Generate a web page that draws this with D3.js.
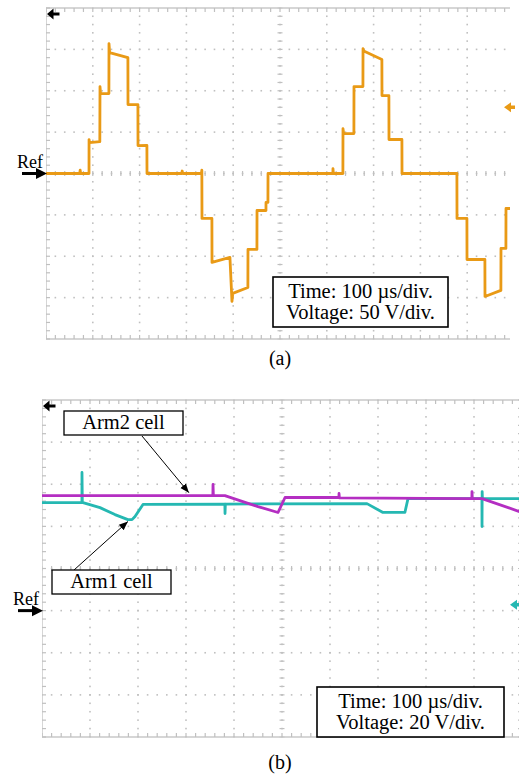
<!DOCTYPE html>
<html lang="en">
  <head>
    <meta charset="UTF-8">
    <title>Cell waveforms</title>
    <style>
      body { margin: 0; background: #fff; }
      svg { display: block; }
      text { font-family: "Liberation Serif", "Times New Roman", serif; fill: #000; }
    </style>
  </head>
  <body>
    <svg id="chart" width="519" height="775"></svg>

    <script src="https://cdn.jsdelivr.net/npm/d3@7"></script>

    <script>
      // panel (a): output voltage, 100 us/div, 50 V/div
      var aTime = [0, 72, 73, 74, 91.9, 92, 93, 115, 115.4, 116.5, 134.4, 134.6, 136, 175, 175.2, 196.4, 196.6, 215.6, 215.8,
                   290, 291, 292, 332, 333, 333.3, 354.5, 354.7, 393, 397.4, 399, 431.4, 431.6, 450.7, 450.9, 470, 470.1, 474.2, 474.4,
                   613, 613.2, 614, 634.4, 634.6, 636, 657.9, 658.1, 677.2, 677.4, 679, 717.7, 717.9, 732.7, 732.9, 760.5, 760.7,
                   878, 878.2, 899.4, 899.6, 937.8, 938, 972, 972.2, 982.7, 982.9, 995];
      var aVolt = [0, 0, 4, 0, 0, 41, 37.4, 38.5, 105, 96.6, 96.6, 157, 146, 140, 83.3, 83.3, 33.8, 34, 0,
                   0, 3, 0, 0, 4, -54.3, -54.3, -107.5, -101.4, -154.6, -144.9, -137.7, -91.8, -91.8, -44.7, -44.7, -35, -35, 0,
                   0, 6, 0, 0, 54.3, 48.3, 48.3, 105.1, 105.1, 151, 148, 137.7, 94.2, 94.2, 41.1, 41.1, 0,
                   0, -54.3, -54.3, -103.9, -103.9, -148.6, -141.3, -90.6, -90.6, -42.3, -42.3];

      // panel (b): cell voltages, 100 us/div, 20 V/div
      var arm2Time = [0, 356, 356.3, 357, 381, 450, 491.7, 506.3, 618.6, 618.8, 619.5, 895.6, 895.8, 896.5, 916.7, 1000];
      var arm2Volt = [54.6, 54.6, 59.9, 54.6, 54.6, 49.4, 46.6, 53.7, 53.7, 55.6, 53.5, 53.2, 56.5, 53.2, 53.2, 46.6];

      var arm1Time = [0, 83.2, 83.3, 84, 85.4, 120.8, 152, 179, 187.5, 193.8, 210.4, 381, 381.3, 382, 677, 710.4, 756, 762.5,
                      916.5, 916.7, 917, 917.5, 1000];
      var arm1Volt = [51.3, 51.3, 65.6, 51.3, 51.3, 48.9, 45.6, 43.2, 43.2, 44.7, 50.4, 50.6, 46.1, 50.6, 50.8, 46.6, 46.6, 53.2,
                      53.2, 39.9, 56.5, 53.2, 53.2];

      var timeTicks = [0, 100, 200, 300, 400, 500, 600, 700, 800, 900, 1000];
      var aVoltTicks = [-200, -150, -100, -50, 0, 50, 100, 150, 200];
      var bVoltTicks = [-60, -40, -20, 0, 20, 40, 60, 80, 100];

      var svg = d3.select("#chart");
      var defs = svg.append("defs");

      defs.append("marker")
        .attr("id", "head")
        .attr("viewBox", "0 0 10 10")
        .attr("refX", 10).attr("refY", 5)
        .attr("markerWidth", 9).attr("markerHeight", 9)
        .attr("markerUnits", "userSpaceOnUse")
        .attr("orient", "auto")
        .append("path").attr("d", "M0,1 L10,5 L0,9 Z").attr("fill", "#000");

      function panel(opts) {
        var x = d3.scaleLinear().domain([0, 1000]).range(opts.xr);
        var y = d3.scaleLinear().domain(opts.yd).range(opts.yr);
        var g = svg.append("g");

        defs.append("clipPath").attr("id", opts.id)
          .append("rect")
          .attr("x", opts.xr[0]).attr("y", opts.yr[1] - 2)
          .attr("width", opts.clipX - opts.xr[0]).attr("height", opts.yr[0] - opts.yr[1] + 4);

        var grid = g.append("g").attr("clip-path", "url(#" + opts.id + ")");
        var xMinor = d3.range(0, 1000.1, 20);
        var yMinor = d3.range(opts.yd[0], opts.yd[1] + 0.01, opts.yStep / 5);
        var gridCol = "#c0c0c0";

        // dotted major lines
        timeTicks.slice(1, -1).forEach(function(t) {
          grid.selectAll(null).data(yMinor).enter().append("rect")
            .attr("x", x(t) - 0.8).attr("y", function(d) { return y(d) - 0.8; })
            .attr("width", 1.6).attr("height", 1.6).attr("fill", gridCol);
        });
        opts.yTicks.slice(1, -1).forEach(function(v) {
          grid.selectAll(null).data(xMinor).enter().append("rect")
            .attr("x", function(d) { return x(d) - 0.8; }).attr("y", y(v) - 0.8)
            .attr("width", 1.6).attr("height", 1.6).attr("fill", gridCol);
        });

        // centre axes with minor ticks
        var cx = x(500), cy = y(opts.yCenter);
        grid.selectAll(null).data(yMinor).enter().append("line")
          .attr("x1", cx - 2.5).attr("x2", cx + 2.5)
          .attr("y1", function(d) { return y(d); }).attr("y2", function(d) { return y(d); })
          .attr("stroke", gridCol).attr("stroke-width", 1.2);
        grid.selectAll(null).data(xMinor).enter().append("line")
          .attr("y1", cy - 2.5).attr("y2", cy + 2.5)
          .attr("x1", function(d) { return x(d); }).attr("x2", function(d) { return x(d); })
          .attr("stroke", gridCol).attr("stroke-width", 1.2);

        // frame with ticks on the edges
        grid.append("rect")
          .attr("x", opts.xr[0]).attr("y", opts.yr[1])
          .attr("width", opts.xr[1] - opts.xr[0]).attr("height", opts.yr[0] - opts.yr[1])
          .attr("fill", "none").attr("stroke", "#cccccc").attr("stroke-width", 1.6);
        [opts.yr[0], opts.yr[1]].forEach(function(edge, i) {
          var dir = i === 0 ? -1 : 1;
          grid.selectAll(null).data(xMinor).enter().append("line")
            .attr("x1", function(d) { return x(d); }).attr("x2", function(d) { return x(d); })
            .attr("y1", edge).attr("y2", edge + dir * 4)
            .attr("stroke", gridCol).attr("stroke-width", 1.2);
        });
        [opts.xr[0], opts.xr[1]].forEach(function(edge, i) {
          var dir = i === 0 ? 1 : -1;
          grid.selectAll(null).data(yMinor).enter().append("line")
            .attr("y1", function(d) { return y(d); }).attr("y2", function(d) { return y(d); })
            .attr("x1", edge).attr("x2", edge + dir * 4)
            .attr("stroke", gridCol).attr("stroke-width", 1.2);
        });

        // traces
        var line = d3.line()
          .x(function(d) { return x(d[0]); })
          .y(function(d) { return y(d[1]); });
        var traces = g.append("g").attr("clip-path", "url(#" + opts.id + ")");
        opts.series.forEach(function(s) {
          traces.append("path")
            .datum(d3.zip(s.t, s.v))
            .attr("d", line)
            .attr("fill", "none")
            .attr("stroke", s.color)
            .attr("stroke-width", 2.8)
            .attr("stroke-linejoin", "round");
        });

        // channel offset marker at the right edge
        var my = y(opts.marker.v), mx = opts.marker.x;
        g.append("path")
          .attr("d", "M" + mx + "," + my + " l7,-5 l0,3.3 l4,0 l0,3.4 l-4,0 l0,3.3 Z")
          .attr("fill", opts.marker.color);

        // trigger arrow, top left
        var ax = opts.xr[0] + 1, ay = opts.yr[1] + 6;
        g.append("path")
          .attr("d", "M" + ax + "," + ay + " l6.5,-5.5 l0,4 l6,0 l0,3 l-6,0 l0,4 Z")
          .attr("fill", "#000");

        // Ref arrow
        var ry = y(0);
        g.append("line")
          .attr("x1", opts.xr[0] - 24).attr("x2", opts.xr[0] - 8)
          .attr("y1", ry).attr("y2", ry)
          .attr("stroke", "#000").attr("stroke-width", 3);
        g.append("path")
          .attr("d", "M" + (opts.xr[0] + 1) + "," + ry + " l-11,-5.5 l0,11 Z")
          .attr("fill", "#000");
        g.append("text")
          .attr("x", opts.xr[0] - 29).attr("y", ry - 6)
          .attr("font-size", 18)
          .text("Ref");

        // scale box
        var b = opts.box;
        g.append("rect")
          .attr("x", b.x).attr("y", b.y).attr("width", b.w).attr("height", b.h)
          .attr("fill", "#fff").attr("stroke", "#000").attr("stroke-width", 1.6);
        b.lines.forEach(function(s, i) {
          g.append("text")
            .attr("x", b.x + b.w / 2).attr("y", b.y + 21 + i * 21)
            .attr("text-anchor", "middle")
            .attr("font-size", 20.5)
            .text(s);
        });

        g.append("text")
          .attr("x", 280).attr("y", opts.captionY)
          .attr("text-anchor", "middle")
          .attr("font-size", 20)
          .text(opts.caption);

        return { x: x, y: y, g: g };
      }

      panel({
        id: "clipA",
        xr: [46, 514], yr: [339, 8], clipX: 510,
        yd: [-200, 200], yStep: 50, yTicks: aVoltTicks, yCenter: 0,
        series: [{ t: aTime, v: aVolt, color: "#e99a16" }],
        marker: { x: 504, v: 80, color: "#e99a16" },
        box: { x: 273, y: 277, w: 175, h: 50,
               lines: ["Time: 100 \u00b5s/div.", "Voltage: 50 V/div."] },
        caption: "(a)", captionY: 365
      });

      var pb = panel({
        id: "clipB",
        xr: [42, 522], yr: [737, 400], clipX: 519,
        yd: [-60, 100], yStep: 20, yTicks: bVoltTicks, yCenter: 20,
        series: [{ t: arm1Time, v: arm1Volt, color: "#25b8b2" },
                 { t: arm2Time, v: arm2Volt, color: "#b42ec2" }],
        marker: { x: 510, v: 2.8, color: "#25b8b2" },
        box: { x: 317, y: 687, w: 187, h: 50,
               lines: ["Time: 100 \u00b5s/div.", "Voltage: 20 V/div."] },
        caption: "(b)", captionY: 769
      });

      // cell labels with leader arrows
      var labels = [
        { text: "Arm2 cell", x: 64, y: 411, from: [142, 436], tip: [306, 56] },
        { text: "Arm1 cell", x: 52, y: 570, from: [74, 570], tip: [179, 42.3] }
      ];
      labels.forEach(function(l) {
        pb.g.append("line")
          .attr("x1", l.from[0]).attr("y1", l.from[1])
          .attr("x2", pb.x(l.tip[0])).attr("y2", pb.y(l.tip[1]))
          .attr("stroke", "#000").attr("stroke-width", 1)
          .attr("marker-end", "url(#head)");
        pb.g.append("rect")
          .attr("x", l.x).attr("y", l.y).attr("width", 119).attr("height", 24)
          .attr("fill", "#fff").attr("stroke", "#000").attr("stroke-width", 1.3);
        pb.g.append("text")
          .attr("x", l.x + 59.5).attr("y", l.y + 18)
          .attr("text-anchor", "middle")
          .attr("font-size", 20.5)
          .text(l.text);
      });
    </script>
  </body>
</html>
